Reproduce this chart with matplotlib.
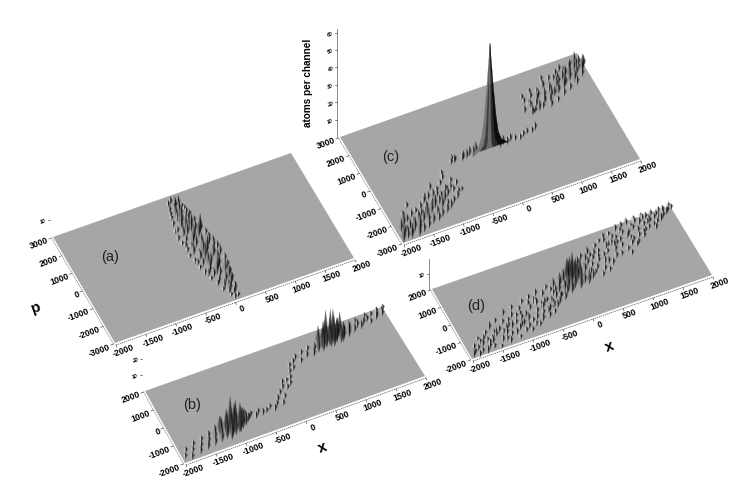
import numpy as np
import matplotlib
matplotlib.use("Agg")
import matplotlib.pyplot as plt
from matplotlib.collections import PolyCollection

plt.rcParams["font.family"] = ["Liberation Sans", "DejaVu Sans"]

x_ticks = [-2000, -1500, -1000, -500, 0, 500, 1000, 1500, 2000]
p_ticks_wide = [-3000, -2000, -1000, 0, 1000, 2000, 3000]
p_ticks_narrow = [-2000, -1000, 0, 1000, 2000]

# (a) narrow ridge near x=0
a_x = [-150, -70, -100, -10, 30, -180, -125, -40, -75, 45,
       -210, -120, -60, -5, 70, -240, -150, -100, 20, 85,
       -265, -175, -80, -30, 120, -285, -195, -120, 80, 140,
       -270, -165, -60, 10, 155, -250, -185, -90, 50, 165,
       -265, -130, -30, 70, 190, -240, -150, -60, 90, 175,
       -215, -100, -30, 60, 200, -190, -85, 25, 110, 185,
       -150, -60, 5, 115, 165, -100, -30, 40, 85, 140,
       -70, -5, 25, 95, 120, 0, 35, 55, 95,
       -200, -140, -100, -50, 0, 40, -230, -170, -110, -50,
       20, 100, -240, -180, -110, -40, 30, 120, -210, -130,
       -60, 10, 80, 150, -150, -80, -20, 50, 110, 40]
a_p = [2580, 2350, 2640, 2420, 2300, 2260, 1980, 2180, 2350, 1960,
       1900, 1640, 2010, 1700, 1790, 1560, 1300, 1620, 1330, 1440,
       1210, 930, 1290, 1040, 1130, 800, 590, 900, 800, 620,
       520, 220, 600, 290, 430, 120, -110, 210, -60, 60,
       -190, -440, -140, -480, -200, -540, -790, -510, -820, -560,
       -900, -1180, -860, -1120, -890, -1240, -1490, -1210, -1470, -1230,
       -1600, -1840, -1560, -1810, -1580, -1950, -2190, -1910, -2150, -1930,
       -2310, -2520, -2270, -2500, -2300, -2680, -2850, -2620, -2800,
       2050, 1750, 2250, 1900, 1500, 2100, 1200, 1050, 1500, 1150,
       950, 900, 350, 0, 400, -80, 650, 180, -650, -350,
       -750, -250, -500, -100, -1350, -1050, -1400, -1100, -1700, -2350]
a_h = [3, 5, 4, 6, 2, 4, 6, 5, 7, 3,
       2, 6, 7, 4, 3, 3, 6, 8, 6, 3,
       2, 5, 7, 8, 4, 3, 4, 7, 11, 4,
       2, 3, 8, 6, 3, 3, 5, 7, 8, 5,
       2, 5, 7, 6, 4, 3, 5, 9, 7, 6,
       2, 4, 7, 8, 4, 3, 5, 7, 8, 4,
       2, 4, 6, 7, 4, 3, 5, 6, 7, 4,
       2, 4, 5, 5, 3, 2, 3, 4, 2,
       3, 5, 4, 6, 6, 3, 3, 5, 7, 7,
       7, 5, 3, 5, 7, 7, 8, 5, 3, 5,
       7, 7, 7, 4, 4, 6, 7, 7, 6, 4]

# (c) two outer lobes and a thin strip through the centre
c_x = [-1970, -1920, -1880, -1840, -1800, -1760, -1720, -1700, -1660, -1620,
       -1600, -1570, -1530, -1500, -1470, -1440, -1400, -1370, -1340, -1300,
       -1280, -1250, -1220, -1190, -1150, -1120, -1100, -1060, -1030, -1000,
       -980, -950, -920, -890, -860, -830, -800, -770, -740, -1850,
       -1780, -1690, -1560, -1430, -1260, -1180, -1080, -940, -900, -1650,
       -670, -640, -610, -590, -480, -450, -400, -340, -290, -240,
       160, 220, 280, 350, 420, 500, 570, 640, 720, 790,
       780, 900, 850, 880, 910, 940, 980, 1010, 1050, 1080,
       1110, 1140, 1180, 1210, 1240, 1280, 1310, 1340, 1380, 1410,
       1440, 1480, 1510, 1540, 1580, 1610, 1650, 1680, 1720, 1750,
       1790, 1820, 1860, 1890, 1930, 1960, 1990, 850, 1000, 1150,
       1300, 1450, 1600, 1760, 1900, 1250, 1500,
       -1900, -1780, -1650, -1580, -1460, -1380, -1270, -1160, -1060, -980,
       -1820, -1510, -1340, -1130, -860, 1000, 1100, 1220, 1340, 1420,
       1500, 1580, 1660, 1740, 1820, 1920, 900, 1270, 1640, 1880]
c_p = [-2900, -2350, -2800, -2150, -2700, -2000, -2550, -2880, -1850, -2450,
       -2750, -1750, -2300, -2650, -1650, -2150, -2520, -1400, -2000, -2480,
       -1300, -1800, -2350, -1250, -1950, -2250, -1100, -1650, -2100, -850,
       -1480, -1900, -620, -1250, -1750, -900, -1500, -1100, -1460, -2500,
       -1700, -2250, -1950, -1900, -1600, -900, -1400, -1150, -430, -1350,
       -40, 50, -30, 60, -60, 30, -20, 60, -50, 20,
       -70, 30, -40, 60, 10, -40, 70, 130, 90, 190,
       1130, 950, 1600, 950, 1300, 1000, 1700, 1000, 1480, 1050,
       1850, 1250, 1500, 980, 2000, 1400, 1750, 1100, 2250, 1600,
       1850, 1300, 2350, 1650, 2050, 1450, 2400, 1900, 2200, 1600,
       2550, 2050, 2500, 1900, 2500, 2250, 2350, 1800, 1950, 1350,
       1700, 2200, 2500, 2450, 2300, 2150, 1950,
       -2600, -2400, -2650, -2100, -2400, -1700, -2150, -1700, -1950, -1250,
       -2850, -1950, -1300, -1300, -1350, 1250, 1650, 1150, 1450, 1500,
       2100, 1750, 2250, 1750, 2300, 2100, 1400, 2350, 2150, 2450]
c_h = [9, 7, 6, 8, 5, 4, 8, 6, 4, 7,
       5, 3, 7, 5, 4, 8, 6, 3, 7, 5,
       4, 8, 5, 4, 7, 5, 3, 6, 5, 3,
       5, 4, 3, 4, 4, 3, 3, 3, 2, 4,
       3, 4, 3, 3, 3, 4, 3, 2, 3, 3,
       3, 4, 3, 3, 4, 4, 5, 5, 6, 7,
       6, 5, 4, 4, 3, 3, 3, 3, 3, 4,
       4, 3, 3, 5, 4, 3, 4, 6, 5, 3,
       3, 5, 6, 4, 4, 7, 5, 3, 3, 7,
       6, 4, 4, 7, 6, 4, 3, 8, 7, 5,
       4, 7, 8, 5, 5, 8, 6, 3, 3, 4,
       4, 3, 4, 3, 3, 3, 4,
       6, 6, 7, 5, 6, 4, 5, 5, 4, 4,
       8, 4, 4, 3, 3, 4, 4, 5, 5, 6,
       5, 6, 5, 7, 6, 7, 3, 3, 5, 5]

# tall central peak of (c): layers of the surface and its facets
peak_h = [0, 3, 8, 18, 35, 50, 60]
peak_w = [300, 190, 140, 100, 55, 22, 0]
peak_u = [-1.0, -0.55, -0.2, 0.15, 0.5, 1.0]
peak_gray = ["#777777", "#3d3d3d", "#6a6a6a", "#2c2c2c", "#0c0c0c"]

# (b) two tall clusters joined by sparse points
b_x = [-1950, -1900, -1860, -1800, -1750, -1700, -1650, -1600, -1560, -1510,
       -1470, -1430, -1390, -1350, -1310, -1280, -1240, -1210, -1180, -1150,
       -1120, -1090, -1060, -1030, -1000, -970, -940, -910, -880, -850,
       -820, -790, -760, -1200, -1130, -1060, -990, -920, -850, -1280,
       -720, -660, -600, -540, -470, -400, -340, -280, -230, -180,
       -150, -110, -70, -40, 0, 40, 70, 110, 150, 190,
       230, 270, 330, 390, 450, 510, 570, 620, 670, 720,
       760, 800, 830, 870, 900, 930, 960, 990, 1020, 1050,
       1080, 1110, 1140, 1170, 800, 870, 940, 1010, 1080, 1150,
       1210, 1260, 1310, 1370, 1430, 1490, 1550, 1600, 1660, 1710,
       1770, 1820, 1880, 1930, 1290, 1440, 1620, 1800, 1890]
b_p = [-1720, -1450, -1880, -1560, -1300, -1760, -1500, -1210, -1680, -1420,
       -1150, -1620, -1350, -1050, -1580, -1300, -980, -1500, -1190, -1620,
       -1320, -1050, -1480, -1220, -900, -1420, -1130, -1300, -1020, -1200,
       -900, -1060, -940, -1400, -1510, -1290, -1410, -1210, -1060, -1120,
       -860, -1050, -880, -1010, -960, -860, -1030, -840, -640, -900,
       -360, -620, -150, 80, -240, 120, -100, 160, 450, 720,
       560, 850, 1010, 760, 1120, 900, 1200, 850, 1090, 960,
       1260, 930, 1180, 1050, 1340, 1100, 1230, 970, 1330, 1110,
       1240, 1020, 1380, 1180, 1090, 1250, 1010, 1160, 1320, 1050,
       1420, 1170, 1500, 1280, 1620, 1330, 1490, 1690, 1400, 1730,
       1510, 1820, 1590, 1840, 1350, 1450, 1570, 1660, 1750]
b_h = [3, 3, 4, 3, 3, 4, 4, 3, 5, 5,
       4, 6, 7, 5, 9, 11, 8, 11, 14, 10,
       16, 19, 13, 18, 12, 15, 14, 12, 9, 8,
       5, 5, 3, 15, 13, 16, 12, 11, 8, 10,
       3, 4, 3, 4, 3, 3, 4, 3, 4, 3,
       3, 3, 3, 3, 3, 2, 3, 3, 3, 3,
       3, 3, 3, 3, 3, 4, 3, 5, 5, 9,
       12, 11, 15, 13, 19, 16, 20, 14, 18, 15,
       13, 11, 14, 9, 12, 14, 13, 16, 11, 12,
       6, 7, 5, 5, 4, 5, 4, 4, 3, 3,
       4, 3, 4, 3, 6, 5, 4, 3, 3]

# (d) wide diagonal band with a central peak
d_x = [-1950, -1900, -1860, -1880, -1790, -1760, -1720, -1690, -1650, -1770,
       -1620, -1590, -1560, -1520, -1490, -1450, -1420, -1390, -1350, -1320,
       -1290, -1250, -1220, -1190, -1150, -1120, -1090, -1060, -1020, -990,
       -960, -930, -900, -870, -830, -800, -770, -740, -700, -670,
       -640, -610, -580, -550, -520, -480, -450, -420, -390, -360,
       -330, -300, -280, -250, -220, -190, -170, -140, -120, -90,
       -70, -40, -10, 10, 40, 70, 90, 120, 150, 180,
       210, 240, 270, 300, 330, 360, 400, 430, 460, 490,
       520, 560, 590, 620, 650, 690, 720, 750, 780, 820,
       850, 880, 910, 950, 980, 1010, 1040, 1080, 1110, 1140,
       1170, 1210, 1240, 1270, 1300, 1340, 1370, 1400, 1430, 1470,
       1500, 1530, 1560, 1600, 1630, 1660, 1690, 1730, 1760, 1790,
       1830, 1860, 1890, 1930, 1960, -1500, -1200, -950, -700, -450,
       -100, 60, 130, -30, 20, -60, 100, 350, 620, 900,
       1200, 1480, 1750, -1350, -1050, -780, -520, 440, 760, 1060,
       -1830, -1740, -1640, -1570, -1470, -1400, -1310, -1230, -1170, -1100,
       -1040, -980, -910, -850, -790, -720, -660, -600, -560, -500,
       -430, -370, -310, -260, -200, -150, 280, 340, 410, 470,
       540, 600, 670, 730, 800, 860, 930, 1000, 1060, 1130,
       1190, 1250, 1320, 1390, 1450, 1520, 1580, 1650, 1710, 1810,
       -1620, -1280, -1000, -620, -340, 560, 880, 1160, 1340, 1560]
d_p = [-1880, -1720, -1950, -1480, -1810, -1340, -1920, -1260, -1700, -1150,
       -1020, -1790, -1370, -820, -1900, -1080, -1620, -600, -1250, -1810,
       -760, -1480, -380, -1130, -1760, -620, -1340, -240, -1560, -880,
       -420, -1640, -1050, -130, -1420, -560, -1120, -30, -1300, -420,
       -980, 40, -1250, -520, -120, -1150, -780, 150, -900, -260,
       -740, 120, -520, -200, -660, 130, -300, -60, 190, -130,
       -450, 300, -30, -260, 240, 60, -380, 460, 120, -190,
       760, -300, 330, 1000, -120, 620, 60, 1120, 240, -180,
       980, 60, 1300, 420, 740, 1500, 210, 1120, 1640, 480,
       1180, 1680, 500, 1360, 900, 1780, 620, 1500, 1820, 840,
       1400, 1900, 800, 1560, 1100, 1950, 1000, 1700, 1250, 1970,
       1320, 1860, 1620, 1200, 1950, 1450, 1780, 1500, 1970, 1640,
       1960, 1740, 1830, 1950, 1890, -1180, -780, -1420, -290, -640,
       -250, 150, -120, 240, 380, -340, 40, 820, -60, 1450,
       700, 1880, 1620, -1640, -700, -1500, -900, 900, 1440, 380,
       -1600, -1500, -1380, -1520, -1250, -1100, -1350, -1020, -1500, -1000,
       -1200, -650, -820, -1200, -300, -840, -300, -700, -1000, -460,
       -820, -40, -160, -480, 80, -420, 520, 150, 480, 780,
       580, 1000, 360, 840, 1180, 820, 1120, 1200, 1620, 1240,
       1000, 1650, 1340, 1180, 1550, 1600, 1300, 1720, 1650, 1860,
       -1520, -1120, -1180, -620, -430, 760, 1060, 1100, 1840, 1720]
d_h = [5, 3, 4, 3, 3, 3, 5, 4, 3, 2,
       3, 3, 3, 5, 2, 3, 4, 3, 3, 4,
       3, 3, 4, 5, 2, 4, 4, 3, 3, 4,
       3, 3, 5, 3, 3, 4, 4, 3, 5, 3,
       3, 4, 4, 4, 4, 3, 5, 3, 5, 4,
       4, 6, 4, 7, 5, 8, 8, 5, 9, 11,
       7, 13, 16, 10, 17, 15, 9, 8, 13, 7,
       6, 10, 6, 4, 6, 5, 3, 5, 4, 3,
       4, 4, 3, 4, 3, 2, 4, 4, 3, 4,
       3, 2, 3, 3, 3, 4, 3, 3, 4, 3,
       3, 4, 3, 3, 3, 3, 3, 4, 3, 3,
       3, 4, 3, 3, 3, 3, 4, 3, 3, 4,
       3, 4, 3, 4, 3, 4, 3, 4, 4, 5,
       9, 12, 11, 14, 13, 8, 12, 5, 3, 3,
       3, 3, 3, 3, 3, 3, 4, 4, 3, 3,
       3, 4, 3, 4, 3, 4, 4, 3, 4, 3,
       4, 3, 4, 3, 3, 4, 3, 4, 4, 3,
       4, 3, 5, 4, 5, 6, 3, 4, 3, 3,
       3, 3, 4, 3, 3, 4, 3, 3, 3, 4,
       3, 3, 4, 3, 3, 3, 4, 3, 3, 3,
       3, 4, 4, 4, 5, 3, 4, 3, 3, 3]

# corners in picture pixels: back-left, front-left, front-right, back-right
panels = {
    "a": {"corners": [(53, 237), (115, 343), (354, 258), (291, 153)], "p_ticks": p_ticks_wide,
          "zs": 1.75, "letter": (110, 257), "data": (a_x, a_p, a_h), "z_ticks": [10], "z_top": None},
    "b": {"corners": [(145, 391), (185, 463), (425, 376), (382, 307)], "p_ticks": p_ticks_narrow,
          "zs": 1.6, "letter": (192, 405), "data": (b_x, b_p, b_h), "z_ticks": [10, 20], "z_top": None},
    "c": {"corners": [(340, 137), (403, 243), (640, 159), (577, 53)], "p_ticks": p_ticks_wide,
          "zs": 1.74, "letter": (391, 157), "data": (c_x, c_p, c_h),
          "z_ticks": [10, 20, 30, 40, 50, 60], "z_top": 62},
    "d": {"corners": [(432, 289), (472, 359), (712, 275), (670, 206)], "p_ticks": p_ticks_narrow,
          "zs": 1.5, "letter": (476, 306), "data": (d_x, d_p, d_h), "z_ticks": [10], "z_top": 20},
}


def project(panel, x, p, z=0.0):
    bl, fl, fr, br = [np.array(c, dtype=float) for c in panel["corners"]]
    ticks = panel["p_ticks"]
    s = (np.asarray(x, dtype=float) + 2000.0) / 4000.0
    t = (np.asarray(p, dtype=float) - ticks[0]) / (ticks[-1] - ticks[0])
    sx = fr - fl
    ty = bl - fl
    px = fl[0] + s * sx[0] + t * ty[0]
    py = fl[1] + s * sx[1] + t * ty[1] - z * panel["zs"]
    return px, py


def draw_spikes(ax, panel):
    xs, ps, hs = panel["data"]
    order = np.argsort(-np.asarray(ps))
    polys, colors = [], []
    for i in order:
        bx, by = project(panel, xs[i], ps[i])
        h = hs[i]
        tall = h * panel["zs"]
        shade = min(h / 14.0, 1.0)
        lit = 0.92 - 0.7 * shade
        # soft halo first, then the lit and dark sides of the streak
        for w, alpha in ((3.0, 0.28), (1.7, 0.85)):
            top = (bx, by - tall)
            mid_l = (bx - w, by - 0.3 * tall)
            mid_r = (bx + w, by - 0.3 * tall - 0.3 * w)
            low = (bx + 0.2, by + 2.5)
            polys.append([top, mid_l, low])
            colors.append((lit, lit, lit, alpha))
            polys.append([top, low, mid_r])
            colors.append((0.08, 0.08, 0.08, alpha))
    ax.add_collection(PolyCollection(polys, facecolors=colors, linewidths=0, zorder=3))


def draw_peak(ax, panel):
    polys, colors = [], []
    for j in range(len(peak_u) - 1):
        for k in range(len(peak_h) - 1):
            pts = []
            for u, lev in ((peak_u[j], k), (peak_u[j + 1], k), (peak_u[j + 1], k + 1), (peak_u[j], k + 1)):
                pts.append(project(panel, u * peak_w[lev], 0, peak_h[lev]))
            polys.append(pts)
            colors.append(peak_gray[j])
    ax.add_collection(PolyCollection(polys, facecolors=colors, edgecolors=colors, linewidths=0.2, zorder=4))


def draw_axes(ax, panel):
    tick_kw = dict(fontsize=6.2, fontweight="bold", rotation=20, rotation_mode="anchor", color="black")
    fx, fy = project(panel, np.array(x_ticks), panel["p_ticks"][0])
    ax.plot(fx + 1, fy + 2, color="#555555", lw=0.5, ls=(0, (2, 1)), zorder=2)
    for tx, px, py in zip(x_ticks, fx, fy):
        ax.plot([px + 1, px + 1.8], [py + 2, py + 4], color="#555555", lw=0.5, zorder=2)
        ax.text(px + 8, py + 8, str(tx), ha="center", va="center", **tick_kw)
    gx, gy = project(panel, -2000, np.array(panel["p_ticks"]))
    ax.plot(gx - 1.5, gy + 1, color="#777777", lw=0.5, ls=(0, (2, 1)), zorder=2)
    for tp, px, py in zip(panel["p_ticks"], gx, gy):
        ax.plot([px - 1.5, px - 4], [py + 1, py + 2], color="#555555", lw=0.5, zorder=2)
        ax.text(px - 5, py + 3.5, str(tp), ha="right", va="center", **tick_kw)
    zx, zy = project(panel, -2000, panel["p_ticks"][-1])
    if panel["z_top"] is not None:
        ax.plot([zx - 3, zx - 3], [zy, zy - panel["z_top"] * panel["zs"]], color="#777777", lw=0.6, zorder=2)
    for z in panel["z_ticks"]:
        ty = zy - z * panel["zs"]
        ax.plot([zx - 5, zx - 3], [ty, ty], color="#555555", lw=0.5, zorder=2)
        ax.text(zx - 7, ty + 1, str(z), ha="right", va="center", fontsize=3.8, fontweight="bold",
                style="italic", rotation=20, rotation_mode="anchor")


fig = plt.figure(figsize=(7.47, 5.03), dpi=100)
ax = fig.add_axes([0, 0, 1, 1])
ax.set_xlim(0, 747)
ax.set_ylim(503, 0)
ax.axis("off")

for name, panel in panels.items():
    ax.add_patch(plt.Polygon(panel["corners"], closed=True, facecolor="#a6a6a6", edgecolor="none", zorder=1))
    draw_axes(ax, panel)
    draw_spikes(ax, panel)
    ax.text(*panel["letter"], "(%s)" % name, fontsize=10.5, ha="center", va="center", color="#222222", zorder=5)

draw_peak(ax, panels["c"])

ax.text(308, 83, "atoms per channel", rotation=90, fontsize=7.2, fontweight="bold", ha="center", va="center")
ax.text(36, 308, "p", rotation=20, fontsize=11, fontweight="bold", ha="center", va="center")
ax.text(323, 448, "x", rotation=20, fontsize=11, fontweight="bold", ha="center", va="center")
ax.text(610, 347, "x", rotation=20, fontsize=11, fontweight="bold", ha="center", va="center")

fig.savefig("out.png", dpi=100)
plt.close(fig)
